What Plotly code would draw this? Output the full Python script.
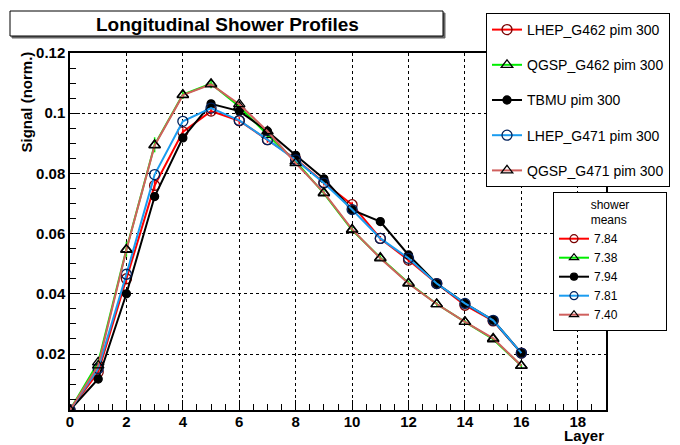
import plotly.graph_objects as go

# layer number along the calorimeter
layers = list(range(17))

lhep_g462 = [0.0014, 0.014, 0.045, 0.076, 0.0938, 0.1007, 0.0975, 0.0912, 0.0848, 0.0770,
             0.0696, 0.0584, 0.0512, 0.0434, 0.0362, 0.0310, 0.0203]
qgsp_g462 = [0.0014, 0.0172, 0.0548, 0.0895, 0.1062, 0.1098, 0.1022, 0.0928, 0.0840, 0.0734,
             0.0612, 0.0520, 0.0436, 0.0366, 0.0307, 0.0249, 0.0161]
tbmu = [0.0014, 0.0117, 0.0400, 0.0723, 0.0918, 0.1031, 0.1007, 0.0940, 0.0860, 0.0782,
        0.0679, 0.0640, 0.0529, 0.0434, 0.0368, 0.0312, 0.0203]
lhep_g471 = [0.0014, 0.0152, 0.0465, 0.0796, 0.0973, 0.1017, 0.0976, 0.0912, 0.0845, 0.0768,
             0.0680, 0.0584, 0.0518, 0.0434, 0.0368, 0.0312, 0.0203]
qgsp_g471 = [0.0014, 0.0162, 0.0546, 0.0893, 0.1060, 0.1096, 0.1030, 0.0940, 0.0834, 0.0736,
             0.0614, 0.0518, 0.0434, 0.0366, 0.0307, 0.0252, 0.0161]

err_qgsp_g462 = [0, 0.0005, 0.0025, 0.0025, 0.0015, 0.0015, 0.001, 0.001, 0.001, 0.001,
                 0.001, 0.0008, 0.0008, 0.0006, 0.0006, 0.0005, 0.0005]
err_lhep_g462 = [0, 0.0005, 0.0015, 0.0015, 0.0012, 0.0015, 0.0012, 0.001, 0.001, 0.001,
                 0.001, 0.0008, 0.0008, 0.0006, 0.0006, 0.0005, 0.0005]
err_tbmu = [0, 0.0003, 0.0008, 0.001, 0.0012, 0.0012, 0.001, 0.0008, 0.0008, 0.0008,
            0.0007, 0.0006, 0.0006, 0.0005, 0.0005, 0.0004, 0.0004]

names = ["LHEP_G462 pim 300", "QGSP_G462 pim 300", "TBMU pim 300",
         "LHEP_G471 pim 300", "QGSP_G471 pim 300"]
shower_means = ["7.84", "7.38", "7.94", "7.81", "7.40"]

series = [lhep_g462, qgsp_g462, tbmu, lhep_g471, qgsp_g471]
errors = [err_lhep_g462, err_qgsp_g462, err_tbmu, None, None]
colors = ["#ff0000", "#00ee00", "#000000", "#1a9cf0", "#d0605e"]
symbols = ["circle-open", "triangle-up-open", "circle", "circle-open", "triangle-up-open"]
mcolors = ["#7a0000", "#000000", "#000000", "#00205a", "#000000"]

FONT = "Liberation Sans, Arial, sans-serif"
NB = "\u00a0"

W, H = 680, 445
# the page body adds an 8px margin, so figure pixels = screen pixels - 8
O = 8
# plot area in screen pixels
L, R, T, B = 70, 606, 53, 410


def px(x):
    return (x - L) / (R - L)


def py(y):
    return (B - y) / (B - T)


fig = go.Figure()

for i in range(5):
    err = None
    if errors[i] is not None:
        err = dict(type="data", array=errors[i], color=colors[i], thickness=1.5, width=0)
    fig.add_trace(go.Scatter(
        x=layers, y=series[i], name=names[i], mode="lines+markers",
        line=dict(color=colors[i], width=2),
        marker=dict(symbol=symbols[i], size=10 if i != 2 else 8, color=mcolors[i],
                    line=dict(width=1.3, color=mcolors[i])),
        error_y=err, legend="legend", legendgroup="g%d" % i, cliponaxis=True,
    ))

for i in range(5):
    fig.add_trace(go.Scatter(
        x=[None], y=[None], name=shower_means[i] + NB * 13, mode="lines+markers",
        line=dict(color=colors[i], width=2),
        marker=dict(symbol=symbols[i], size=8 if i != 2 else 7, color=mcolors[i],
                    line=dict(width=1.2, color=mcolors[i])),
        legend="legend2",
    ))

# title box with shadow
fig.add_shape(type="rect", xref="paper", yref="paper",
              x0=px(12), x1=px(445), y0=py(38), y1=py(13),
              line=dict(color="#666666", width=1), fillcolor="#666666", layer="above")
fig.add_shape(type="rect", xref="paper", yref="paper",
              x0=px(10), x1=px(443), y0=py(36), y1=py(11),
              line=dict(color="#000000", width=1), fillcolor="white", layer="above")
fig.add_annotation(text="Longitudinal Shower Profiles", xref="paper", yref="paper",
                   x=px(227), y=py(24), xanchor="center", yanchor="middle", showarrow=False,
                   font=dict(family=FONT, size=19, color="black", weight="bold"))

fig.add_annotation(text="Signal (norm.)", xref="paper", yref="paper", textangle=-90,
                   x=px(26), y=py(50), xanchor="center", yanchor="top", showarrow=False,
                   font=dict(family=FONT, size=15, color="black", weight="bold"))
fig.add_annotation(text="Layer", xref="paper", yref="paper",
                   x=1.0, y=py(435), xanchor="right", yanchor="middle", showarrow=False,
                   font=dict(family=FONT, size=15, color="black", weight="bold"))

axis_common = dict(
    showline=True, linecolor="black", linewidth=1.5, mirror=True,
    showgrid=True, gridcolor="black", griddash="dot", gridwidth=1,
    zeroline=False, ticks="inside", tickcolor="black", ticklen=10,
    tickfont=dict(family=FONT, size=15, color="black", weight="bold"),
)

fig.update_xaxes(range=[0, 19], dtick=2, tick0=0, ticklabelstandoff=-3,
                 minor=dict(dtick=0.5, ticks="inside", ticklen=6, tickcolor="black", showgrid=False),
                 **axis_common)
fig.update_yaxes(range=[0.0014, 0.12], tickvals=[0.02, 0.04, 0.06, 0.08, 0.1, 0.12],
                 ticktext=["0.02", "0.04", "0.06", "0.08", "0.1", "0.12"],
                 minor=dict(dtick=0.005, tick0=0, ticks="inside", ticklen=6, tickcolor="black", showgrid=False),
                 **axis_common)

fig.update_layout(
    width=W, height=H,
    margin=dict(l=L - O, r=W - (R - O), t=T - O, b=H - (B - O), autoexpand=False),
    paper_bgcolor="white", plot_bgcolor="white",
    font=dict(family=FONT, color="black"),
    showlegend=True,
    legend=dict(
        xref="container", yref="container", x=(486 - O) / W, y=1 - (13 - O) / H,
        xanchor="left", yanchor="top",
        bgcolor="white", bordercolor="black", borderwidth=1,
        font=dict(family=FONT, size=14, color="black"),
        tracegroupgap=14, itemwidth=30,
    ),
    legend2=dict(
        xref="container", yref="container", x=(553 - O) / W, y=1 - (192 - O) / H,
        xanchor="left", yanchor="top",
        bgcolor="white", bordercolor="black", borderwidth=1,
        font=dict(family=FONT, size=12, color="black"),
        title=dict(text="shower<br>means", side="top center",
                   font=dict(family=FONT, size=12, color="black")),
        itemwidth=30, tracegroupgap=0,
    ),
)

fig.write_html("out.html")
